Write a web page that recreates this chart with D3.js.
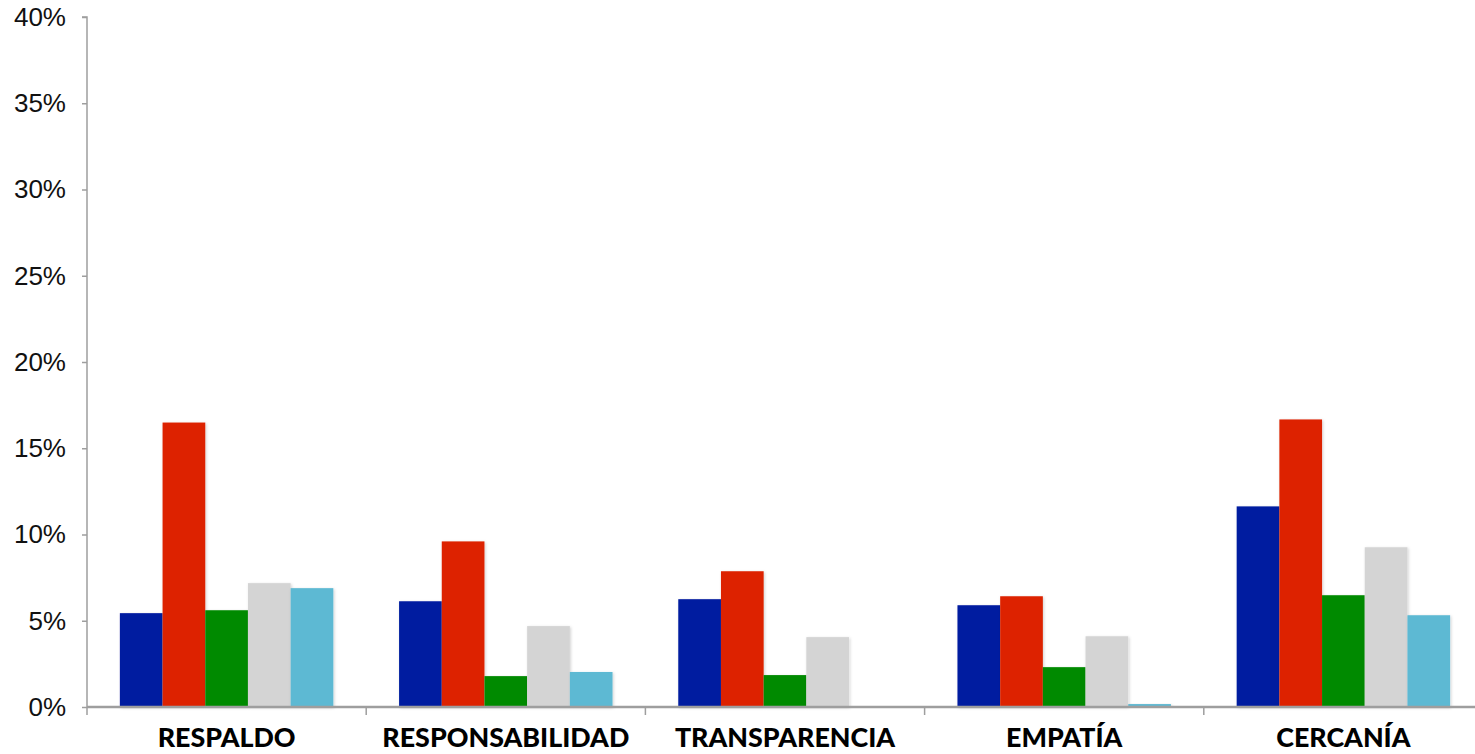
<!DOCTYPE html>
<html>
<head>
<meta charset="utf-8">
<script src="https://cdn.jsdelivr.net/npm/d3@7"></script>
<style>
  body { margin: 0; background: #fff; }
  svg { display: block; }
</style>
</head>
<body>
<svg id="chart" width="1475" height="754"></svg>
<script>
// categories and series
const categories = ['RESPALDO', 'RESPONSABILIDAD', 'TRANSPARENCIA', 'EMPATÍA', 'CERCANÍA'];
const seriesNames = ['s1', 's2', 's3', 's4', 's5'];
const seriesColors = ['#011CA0', '#DD2404', '#018A02', '#D4D4D4', '#5DB9D3'];

// values in %, one array per series
const s1 = [5.44, 6.13, 6.25, 5.9, 11.63];
const s2 = [16.49, 9.6, 7.87, 6.42, 16.67];
const s3 = [5.61, 1.79, 1.85, 2.31, 6.48];
const s4 = [7.18, 4.69, 4.05, 4.1, 9.26];
const s5 = [6.89, 2.03, 0, 0.17, 5.32];
const yTicks = [0, 5, 10, 15, 20, 25, 30, 35, 40];

const seriesValues = [s1, s2, s3, s4, s5];

const svg = d3.select('#chart');
const marginLeft = 87, plotTop = 17, plotBottom = 707;
const groupW = 279.2;

// x scale for categories
const x = d3.scaleBand()
  .domain(categories)
  .range([marginLeft, marginLeft + groupW * categories.length])
  .paddingInner(0).paddingOuter(0);

// inner scale for series
const xInner = d3.scaleBand()
  .domain(seriesNames)
  .range([0, x.bandwidth()])
  .paddingOuter(0.77).paddingInner(0);

const y = d3.scaleLinear().domain([0, 40]).range([plotBottom, plotTop]);

// shadow filter
const defs = svg.append('defs');
const f = defs.append('filter').attr('id', 'shadow')
  .attr('x', '-20%').attr('y', '-20%').attr('width', '140%').attr('height', '140%');
f.append('feDropShadow').attr('dx', 1).attr('dy', 1).attr('stdDeviation', 1.5)
  .attr('flood-color', '#000').attr('flood-opacity', 0.18);

// bars
const groups = svg.append('g').selectAll('g')
  .data(categories)
  .join('g')
  .attr('transform', d => `translate(${x(d)},0)`);

groups.selectAll('rect')
  .data((d, i) => seriesNames.map((s, j) => ({ s, v: seriesValues[j][i], c: seriesColors[j] })))
  .join('rect')
  .filter(d => d.v > 0)
  .attr('x', d => xInner(d.s))
  .attr('width', xInner.bandwidth())
  .attr('y', d => y(d.v))
  .attr('height', d => y(0) - y(d.v))
  .attr('fill', d => d.c)
  .attr('filter', 'url(#shadow)');

// y axis
const yAxis = d3.axisLeft(y)
  .tickValues(yTicks)
  .tickSize(5)
  .tickFormat(d => d + '%');
const yg = svg.append('g').attr('transform', `translate(${marginLeft},0)`).call(yAxis);
yg.select('.domain').attr('stroke', '#9E9E9E').attr('stroke-width', 1.5)
  .attr('d', `M-5,${plotTop}H0V${plotBottom}`);
yg.selectAll('.tick line').attr('stroke', '#9E9E9E').attr('stroke-width', 1.5);
yg.selectAll('.tick text')
  .attr('x', -21)
  .attr('fill', '#111')
  .style('font-family', 'Helvetica, "Liberation Sans", Arial, sans-serif')
  .style('font-size', '26px');

// x axis
const xAxis = d3.axisBottom(x).tickSize(0).tickFormat(d => d);
const xg = svg.append('g').attr('transform', `translate(0,${plotBottom})`).call(xAxis);
xg.select('.domain').attr('stroke', '#9E9E9E').attr('stroke-width', 2.5)
  .attr('d', `M${marginLeft},0H1475`);
xg.selectAll('.tick text')
  .attr('y', 40)
  .attr('dy', 0)
  .attr('fill', '#000')
  .style('font-family', 'Lato, sans-serif')
  .style('font-weight', 900)
  .style('font-size', '26.8px');
// boundary ticks between groups
xg.selectAll('.sep')
  .data(categories)
  .join('line')
  .attr('class', 'sep')
  .attr('x1', d => x(d)).attr('x2', d => x(d))
  .attr('y1', 0).attr('y2', 8)
  .attr('stroke', '#9E9E9E').attr('stroke-width', 1.5);
</script>
</body>
</html>
